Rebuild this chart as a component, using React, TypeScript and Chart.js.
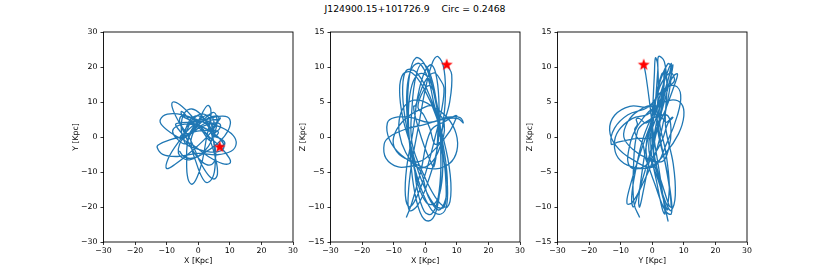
import React, { useEffect, useRef } from 'react';
import { Chart, registerables } from 'chart.js';

Chart.register(...registerables);

// Orbit samples (kpc), one row per half-loop
const orbitX = [
  6.8, 8.38, 7.73, 5.0, 6.83, 6.83,
  5, 1.98, -1.59, -4.72, -5.59, -4.95,
  -3, -0.32, 2.45, 4.56, 4.95, 4.01,
  2, -0.33, -2.57, -4.12, -7.07, -8.12,
  -7, -4.25, -0.38, 3.61, 6.12, 7.01,
  6, 4.03, 0.97, -2.34, -8.53, -12.42,
  -13, -11.27, -6.53, -0.03, 5.97, 10.38,
  12, 11.03, 7.12, 1.29, -4.88, -9.75,
  -12, -11.38, -7.71, -1.97, 3.29, 7.68,
  10, 9.79, 6.96, 2.27, -2.04, -5.8,
  -8, -8.19, -6.18, -2.52, 0.32, 3.07,
  5, 6.08, 5.54, 3.5, 1.04, -1.71,
  -4, -5.64, -5.77, -4.35, -2.27, 0.42,
  3, 4.94, 5.56, 4.69, 3.06, 0.61,
  -2, -4.22, -5.31, -4.98, -3.81, -1.62,
  1, 3.36, 4.83, 5.0, 6.33, 5.96,
  4, 2.41, 0.18, -2.1, -4.32, -5.38,
  -5, -2.37, 0.89, 3.92, 4.39, 3.69,
  2, -0.23, -2.4, -3.92, -5.9, -6.29,
  -5, -2.72, 0.29, 3.22, 5.29, 5.94,
  5, 2.79, -0.16, -3.08, -3.67, -3.27,
  -2, -0.37, 1.37, 2.73, 3.87, 3.96,
  3, 1.44, -0.51, -2.32, -0.51, 1.44,
  3, 4.84, 5.38, 4.48, 3.38, 1.37,
  -1, -2.97, -4.14, -4.2, -0.14, 3.96,
  7, 8.16, 7.14, 4.2, 0.64, -3.1,
  -6, -7.16, -6.4, -3.92, -0.39, 3.24,
  6, 6.54, 5.32, 2.69, -2.68, -7.32,
  -10, -9.53, -6.5, -1.72, 3.51, 7.8,
  10, 9.55, 6.54, 1.78, -1.46, -4.31,
  -6,
];
const orbitY = [
  -2.7, -2.05, -0.86, 0.57, 2.5, 3.75,
  4, 3.26, 1.66, -0.39, 0.16, 0.67,
  1, 1.68, 1.91, 1.62, 4.41, 6.01,
  6, 4.22, 1.32, -1.95, -0.18, 1.62,
  3, 3.68, 3.36, 2.16, 4.36, 5.41,
  5, 4.79, 3.3, 0.92, -0.7, -2.14,
  -3, -4.95, -5.57, -4.7, -5.07, -4.08,
  -2, 0.47, 2.81, 4.4, 6.31, 6.53,
  5, 3.25, 0.62, -2.17, -5.63, -7.58,
  -7.5, -5.96, -2.81, 1.08, 5.94, 9.2,
  10, 8.31, 4.38, -0.71, -6.62, -10.75,
  -12, -10.61, -6.39, -0.45, 2.61, 4.98,
  6, 5.72, 3.91, 1.05, -3.09, -6.4,
  -8, -7.21, -4.49, -0.56, 3.51, 6.65,
  8, 7.02, 4.16, 0.18, 2.66, 4.43,
  5, 4.37, 2.56, 0.07, 1.06, 1.77,
  2, 3.83, 4.64, 4.2, 6.64, 7.3,
  6, 4.64, 2.03, -1.12, 2.28, 5.07,
  6.5, 6.19, 4.22, 1.12, -2.03, -4.64,
  -6, -6.53, -5.31, -2.66, 1.2, 4.73,
  7, 5.85, 3.14, -0.42, -7.11, -11.9,
  -13.5, -11.52, -6.46, 0.34, 4.79, 7.96,
  9, 7.12, 3.32, -1.36, -7.68, -11.93,
  -13, -10.91, -5.9, 0.7, 3.6, 5.55,
  6, 4.36, 1.55, -1.68, -3.46, -4.3,
  -4, -2.76, -0.78, 1.4, 3.22, 4.16,
  4, 3.67, 2.36, 0.42, 3.36, 5.41,
  6, 5.19, 2.97, -0.03, -4.53, -7.8,
  -9, -6.19, -1.73, 3.21, 5.27, 5.94,
  5, 2.02, -1.5, -4.62, -6.0, -5.77,
  -4,
];
const orbitZ = [
  10.4, 8.89, 4.99, -0.24, -5.71, -9.64,
  -11, -10.4, -7.0, -1.74, 4.15, 8.92,
  11.3, 10.48, 6.85, 1.39, -4.3, -8.83,
  -11, -10.6, -7.36, -2.14, 2.65, 6.72,
  9, 9.18, 6.91, 2.77, -2.36, -6.84,
  -9.5, -10.41, -8.53, -4.37, -4.28, -3.05,
  -1, 0.04, 1.07, 1.81, 2.57, 2.64,
  2, 2.78, 2.82, 2.1, 2.82, 2.78,
  2, -0.32, -2.55, -4.1, -4.55, -3.79,
  -2, 0.45, 2.78, 4.37, 5.28, 4.78,
  3, 0.45, -2.22, -4.3, -4.22, -3.01,
  -1, 0.93, 2.62, 3.6, 8.12, 10.46,
  10, 7.5, 2.99, -2.32, -6.76, -9.39,
  -9.5, -7.35, -3.24, 1.75, 6.01, 8.67,
  9, 7.42, 3.86, -0.74, -6.64, -10.77,
  -12, -10.71, -6.55, -0.63, 5.2, 9.64,
  11.5, 10.77, 7.16, 1.62, -3.85, -8.28,
  -10.5, -9.73, -6.37, -1.29, 4.03, 8.28,
  10.3, 9.25, 5.72, 0.66, -4.43, -8.34,
  -10, -8.59, -4.88, 0.14, 4.13, 7.0,
  8, 9.17, 7.88, 4.48, 4.38, 3.11,
  1, -1.24, -3.17, -4.23, -0.66, 3.09,
  6, 7.33, 6.68, 4.26, 3.18, 1.26,
  -1, -0.73, -0.26, 0.28, 5.49, 9.23,
  10.5, 8.67, 4.52, -0.84, -5.73, -9.08,
  -10, -7.54, -3.06, 2.24, 6.69, 9.35,
  9.5, 7.04, 2.71, -2.37, -7.05, -9.85,
  -10, -6.53, -1.31, 4.27, 3.7, 2.14,
  0, -1.75, -3.02, -3.49, -1.52, 0.85,
  3, 3.05, 2.29, 0.91, -4.97, -9.5,
  -11.5,
];

// Current position (red star)
const starX = [6.8];
const starY = [-2.7];
const starZ = [10.4];

const TITLE = 'J124900.15+101726.9    Circ = 0.2468';
const xyRange = [-30, 30];
const zRange = [-15, 15];

const FONT = "'DejaVu Sans', sans-serif";
const FS = 7.8;
const W = 830;
const H = 277;
const TOP = 32;
const BOTTOM = 242;
const PW = 189.5;
const YAXIS_W = 32.7;
const XAXIS_H = 23.2;

const panels = [
  { left: 103.5, hx: orbitX, vy: orbitY, sh: starX, sv: starY, xl: 'X [Kpc]', yl: 'Y [Kpc]', yr: xyRange, ys: 10 },
  { left: 330.5, hx: orbitX, vy: orbitZ, sh: starX, sv: starZ, xl: 'X [Kpc]', yl: 'Z [Kpc]', yr: zRange, ys: 5 },
  { left: 557.5, hx: orbitY, vy: orbitZ, sh: starY, sv: starZ, xl: 'Y [Kpc]', yl: 'Z [Kpc]', yr: zRange, ys: 5 },
];

const fmt = (v: any) => {
  const n = Number(v);
  return n < 0 ? '\u2212' + Math.abs(n) : String(n);
};

function makeStar(): HTMLCanvasElement {
  const c = document.createElement('canvas');
  const s = 14;
  c.width = s;
  c.height = s;
  const ctx = c.getContext('2d')!;
  ctx.fillStyle = '#ff0000';
  ctx.beginPath();
  const cx = s / 2, cy = s / 2 + 0.6, R = 6.3, r = 2.6;
  for (let i = 0; i < 10; i++) {
    const a = -Math.PI / 2 + (i * Math.PI) / 5;
    const rad = i % 2 === 0 ? R : r;
    ctx.lineTo(cx + rad * Math.cos(a), cy + rad * Math.sin(a));
  }
  ctx.closePath();
  ctx.fill();
  return c;
}

const framePlugin = {
  id: 'frame',
  afterDraw(chart: any) {
    const { ctx, chartArea: a } = chart;
    ctx.save();
    ctx.strokeStyle = '#000';
    ctx.lineWidth = 0.9;
    ctx.strokeRect(a.left, a.top, a.right - a.left, a.bottom - a.top);
    ctx.restore();
  },
};

function makeConfig(p: any, star: HTMLCanvasElement): any {
  const right = p.left + PW;
  return {
    type: 'scatter',
    data: {
      datasets: [
        {
          data: p.sh.map((v: number, i: number) => ({ x: v, y: p.sv[i] })),
          pointStyle: star,
          pointRadius: 7,
          showLine: false,
        },
        {
          data: p.hx.map((v: number, i: number) => ({ x: v, y: p.vy[i] })),
          showLine: true,
          borderColor: '#1f77b4',
          borderWidth: 1.3,
          pointRadius: 0,
          tension: 0.4,
          fill: false,
        },
      ],
    },
    options: {
      responsive: false,
      animation: false,
      events: [],
      plugins: { legend: { display: false }, tooltip: { enabled: false } },
      layout: {
        padding: { left: p.left - YAXIS_W, top: TOP, right: W - right, bottom: H - BOTTOM - XAXIS_H },
      },
      scales: {
        x: {
          type: 'linear',
          position: 'bottom',
          min: xyRange[0],
          max: xyRange[1],
          ticks: { stepSize: 10, autoSkip: false, maxRotation: 0, padding: 1, color: '#000', font: { family: FONT, size: FS }, callback: fmt },
          grid: { drawOnChartArea: false, drawTicks: true, tickLength: 3, color: '#000', lineWidth: 0.8 },
          border: { display: false },
          title: { display: true, text: p.xl, color: '#000', padding: 0, font: { family: FONT, size: FS } },
          afterFit: (s: any) => { s.height = XAXIS_H; },
        },
        y: {
          type: 'linear',
          position: 'left',
          min: p.yr[0],
          max: p.yr[1],
          ticks: { stepSize: p.ys, autoSkip: false, padding: 3, color: '#000', font: { family: FONT, size: FS }, callback: fmt },
          grid: { drawOnChartArea: false, drawTicks: true, tickLength: 3, color: '#000', lineWidth: 0.8 },
          border: { display: false },
          title: { display: true, text: p.yl, color: '#000', padding: 0, font: { family: FONT, size: FS } },
          afterFit: (s: any) => { s.width = YAXIS_W; },
        },
      },
    },
    plugins: [framePlugin],
  };
}

export default function App() {
  const r0 = useRef<HTMLCanvasElement>(null);
  const r1 = useRef<HTMLCanvasElement>(null);
  const r2 = useRef<HTMLCanvasElement>(null);
  useEffect(() => {
    const star = makeStar();
    const refs = [r0, r1, r2];
    const charts = panels.map((p, i) => new Chart(refs[i].current!, makeConfig(p, star)));
    return () => charts.forEach((c) => c.destroy());
  }, []);
  const cs: React.CSSProperties = { position: 'absolute', left: 0, top: 0, width: W, height: H };
  return (
    <div style={{ position: 'fixed', left: 0, top: 0, width: W, height: H, background: '#fff', overflow: 'hidden' }}>
      <div
        style={{
          position: 'absolute', left: 0, top: 2, width: W, textAlign: 'center',
          fontFamily: FONT, fontSize: '9.3px', lineHeight: '14px', whiteSpace: 'pre', color: '#000',
        }}
      >
        {TITLE}
      </div>
      <canvas ref={r0} width={W} height={H} style={cs} />
      <canvas ref={r1} width={W} height={H} style={cs} />
      <canvas ref={r2} width={W} height={H} style={cs} />
    </div>
  );
}
